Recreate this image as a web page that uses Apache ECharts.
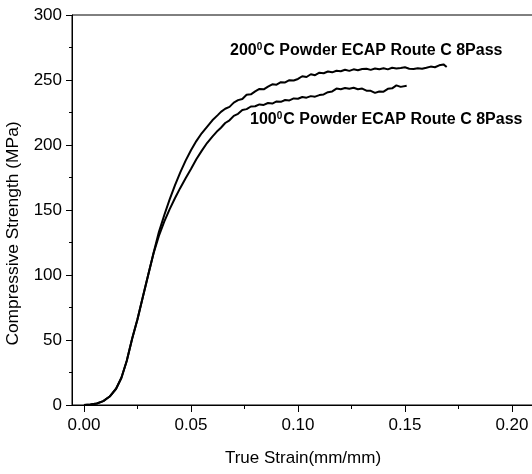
<!DOCTYPE html>
<html><head><meta charset="utf-8">
<script src="https://cdn.jsdelivr.net/npm/echarts@6/dist/echarts.min.js"></script>
<style>html,body{margin:0;padding:0;background:#fff}#c{width:532px;height:474px}</style>
</head><body><div id="c"></div>
<script>
// ---- data ----
const strain200 = [0,0.003,0.006,0.009,0.012,0.015,0.0175,0.02,0.0225,0.025,0.0275,0.03,0.0325,0.035,0.0375,0.04,0.0425,0.045,0.0475,0.05,0.0525,0.055,0.0575,0.06,0.0625,0.064,
 0.066,0.068,0.070,0.072,0.074,0.076,0.078,0.080,0.082,0.084,0.086,0.088,0.090,0.092,0.094,0.096,0.098,0.100,0.102,0.104,0.106,0.108,0.110,0.112,0.114,0.116,0.118,0.120,0.122,0.124,0.126,0.128,0.130,0.132,0.134,0.136,0.138,0.140,0.142,0.144,0.146,0.148,0.150,0.152,0.154,0.156,0.158,0.160,0.162,0.164,0.166,0.168,0.1695];
const stress200 = [0,0.4,1.2,3,6.5,12.5,21,34,51,66,83,100,117,133,146,158,169,179,188,196,203,209,214,219,223,225.5,
 227.9,229.3,232.6,234.5,235.4,238.6,239.0,241.2,243.1,242.8,244.9,246.7,246.4,248.3,248.1,249.9,249.6,250.8,252.9,252.3,254.4,253.7,255.6,255.2,256.5,255.9,257.1,256.7,257.9,257.0,258.2,257.5,258.4,258.6,257.8,258.9,258.3,259.1,258.2,259.4,258.9,259.3,259.8,258.7,258.4,259.0,258.6,259.4,260.3,259.8,261.3,262.0,260];
const strain100 = [0,0.003,0.006,0.009,0.012,0.015,0.0175,0.02,0.0225,0.025,0.0275,0.03,0.0325,0.035,0.0375,0.04,0.0425,0.045,0.0475,0.05,0.0525,0.055,0.0575,0.06,0.0625,0.064,
 0.066,0.068,0.070,0.072,0.074,0.076,0.078,0.080,0.082,0.084,0.086,0.088,0.090,0.092,0.094,0.096,0.098,0.100,0.102,0.104,0.106,0.108,0.110,0.112,0.114,0.116,0.118,0.120,0.122,0.124,0.126,0.128,0.130,0.132,0.134,0.136,0.138,0.140,0.142,0.144,0.146,0.148,0.1508];
const stress100 = [0,0.4,1.2,3,6.5,12.5,21,34,51,66,83,100,116.5,130,141,150.5,159,167,174.5,181.5,189,195.5,201.5,206.5,211,213.3,
 216.9,219.0,222.4,224.0,226.9,227.6,229.6,229.8,231.2,230.8,232.3,231.9,233.5,233.2,234.6,234.3,235.8,235.6,236.9,236.4,237.6,237.2,238.4,238.9,240.6,241.2,243.4,242.9,243.9,243.2,244.0,242.9,243.4,241.8,241.7,240.1,241.2,241.0,243.2,243.6,245.9,244.7,245.6];
const xMajorTicks = [0,0.05,0.10,0.15,0.20];
const xMinorTicks = [0.025,0.075,0.125,0.175];
const yTickInterval = 50;
const xTitle = 'True Strain(mm/mm)';
const yTitle = 'Compressive Strength (MPa)';
const label200 = ['200','0','C Powder ECAP Route C 8Pass'];
const label100 = ['100','0','C Powder ECAP Route C 8Pass'];

const font = 'Liberation Sans, Arial, sans-serif';
const pairs = (xs, ys) => xs.map((x, i) => [x, ys[i]]);
const chart = echarts.init(document.getElementById('c'), null, {renderer: 'canvas'});
const richStyle = {
  b: {fontSize: 16, fontWeight: 'bold', fontFamily: font, color: '#000', fill: '#000'},
  s: {fontSize: 10, fontWeight: 'bold', fontFamily: font, color: '#000', fill: '#000', padding: [0, 1, 8, 0]}
};
chart.setOption({
  animation: false,
  backgroundColor: '#fff',
  grid: {left: 72, top: 15, right: -2, bottom: 69, show: true, borderColor: '#000', borderWidth: 1,
         backgroundColor: 'transparent', outerBoundsMode: 'none', containLabel: false},
  xAxis: [{
    type: 'value', min: -0.0056, max: 0.2103, position: 'bottom',
    name: xTitle, nameLocation: 'middle', nameGap: 45,
    nameTextStyle: {fontSize: 17, color: '#000', fontFamily: font},
    axisLine: {onZero: false, lineStyle: {color: '#000', width: 1}},
    axisTick: {customValues: xMajorTicks, length: 7, lineStyle: {color: '#000'}},
    axisLabel: {customValues: xMajorTicks, formatter: v => v.toFixed(2), fontSize: 17, color: '#000', fontFamily: font, margin: 12},
    splitLine: {show: false}
  }, {
    type: 'value', min: -0.0056, max: 0.2103, position: 'bottom',
    axisLine: {show: false, onZero: false},
    axisTick: {customValues: xMinorTicks, length: 4, lineStyle: {color: '#000'}},
    axisLabel: {show: false},
    splitLine: {show: false}
  }],
  yAxis: {
    type: 'value', min: 0, max: 300, interval: yTickInterval,
    name: yTitle, nameLocation: 'middle', nameGap: 50,
    nameTextStyle: {fontSize: 17.4, color: '#000', fontFamily: font, padding: [0, 47, 0, 0]},
    axisLine: {show: true, onZero: false, lineStyle: {color: '#000', width: 1}},
    axisTick: {show: true, length: 6, lineStyle: {color: '#000'}},
    minorTick: {show: true, splitNumber: 2, length: 3, lineStyle: {color: '#000'}},
    axisLabel: {fontSize: 17, color: '#000', fontFamily: font, margin: 10},
    splitLine: {show: false}
  },
  series: [{
    type: 'line', name: '200', data: pairs(strain200, stress200), showSymbol: false,
    lineStyle: {color: '#000', width: 2}, smooth: false
  }, {
    type: 'line', name: '100', data: pairs(strain100, stress100), showSymbol: false,
    lineStyle: {color: '#000', width: 2}, smooth: false
  }],
  graphic: [{
    type: 'text', left: 230, top: 42,
    style: {text: '{b|' + label200[0] + '}{s|' + label200[1] + '}{b|' + label200[2] + '}', rich: richStyle}
  }, {
    type: 'text', left: 250, top: 111,
    style: {text: '{b|' + label100[0] + '}{s|' + label100[1] + '}{b|' + label100[2] + '}', rich: richStyle}
  }]
});
</script></body></html>
